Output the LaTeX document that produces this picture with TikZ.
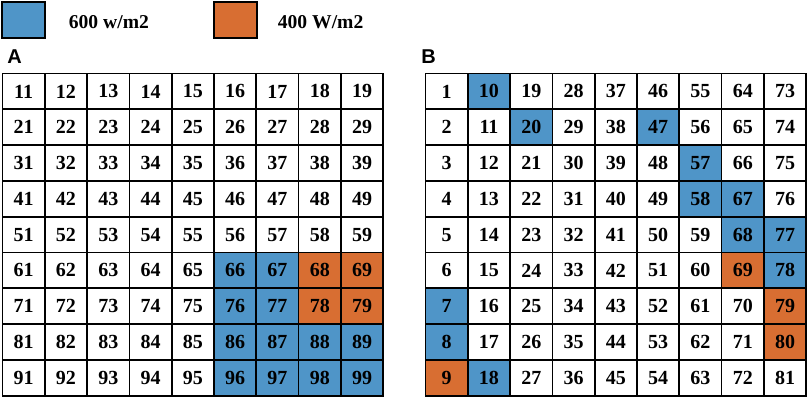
\documentclass[tikz,border=0pt]{standalone}
\usepackage{fontspec}
\setmainfont{Liberation Serif}
\newfontfamily\panelfont{Liberation Sans}
\definecolor{hiblue}{HTML}{4F95C8}
\definecolor{loorange}{HTML}{D86E32}

\begin{document}
\begin{tikzpicture}[x=0.75pt,y=-0.75pt,line width=1.3pt,
  cell/.style={draw,minimum width=31.7pt,minimum height=26.85pt,inner sep=0pt,
    font=\bfseries\fontsize{15}{15}\selectfont},
  key/.style={draw,line width=1.4pt,minimum width=32.2pt,minimum height=27pt,inner sep=0pt},
  keytext/.style={anchor=west,inner sep=0pt,font=\bfseries\fontsize{14.7}{15}\selectfont},
  panel/.style={inner sep=0pt,font=\panelfont\bfseries\fontsize{15}{15}\selectfont}]
\useasboundingbox (0,0) rectangle (809,396);
% legend
\node[key,fill=hiblue] (keyhi) at (23.5,20) {};
\node[keytext] (keyhitext) at (68,22) {600 w/m2};
\node[key,fill=loorange] (keylo) at (235.5,20) {};
\node[keytext] (keylotext) at (277,22) {400 W/m2};
% panel labels
\node[panel] (labA) at (14.5,56.5) {A};
\node[panel] (labB) at (428.5,56.5) {B};
% shaded cells, panel A
\foreach \r/\c in {5/5,5/6,6/5,6/6,7/5,7/6,7/7,7/8,8/5,8/6,8/7,8/8}
  \fill[hiblue] (2.5+\c*42.3,73.5+\r*35.8) rectangle ++(42.3,35.8);
\foreach \r/\c in {5/7,5/8,6/7,6/8}
  \fill[loorange] (2.5+\c*42.3,73.5+\r*35.8) rectangle ++(42.3,35.8);
% shaded cells, panel B
\foreach \r/\c in {0/1,1/2,1/5,2/6,3/6,3/7,4/7,4/8,5/8,6/0,7/0,8/1}
  \fill[hiblue] (425.5+\c*42.3,73.5+\r*35.8) rectangle ++(42.3,35.8);
\foreach \r/\c in {5/7,6/8,7/8,8/0}
  \fill[loorange] (425.5+\c*42.3,73.5+\r*35.8) rectangle ++(42.3,35.8);
% grid A, numbered by rows
\foreach \r in {0,...,8}
  \foreach \c in {0,...,8} {
    \pgfmathtruncatemacro\v{(\r+1)*10+\c+1}
    \node[cell] (a\r\c) at ({2.5+(\c+0.5)*42.3},{73.5+(\r+0.5)*35.8}) {\v};
  }
% grid B, numbered by columns
\foreach \r in {0,...,8}
  \foreach \c in {0,...,8} {
    \pgfmathtruncatemacro\v{\c*9+\r+1}
    \node[cell] (b\r\c) at ({425.5+(\c+0.5)*42.3},{73.5+(\r+0.5)*35.8}) {\v};
  }
\end{tikzpicture}
\end{document}
